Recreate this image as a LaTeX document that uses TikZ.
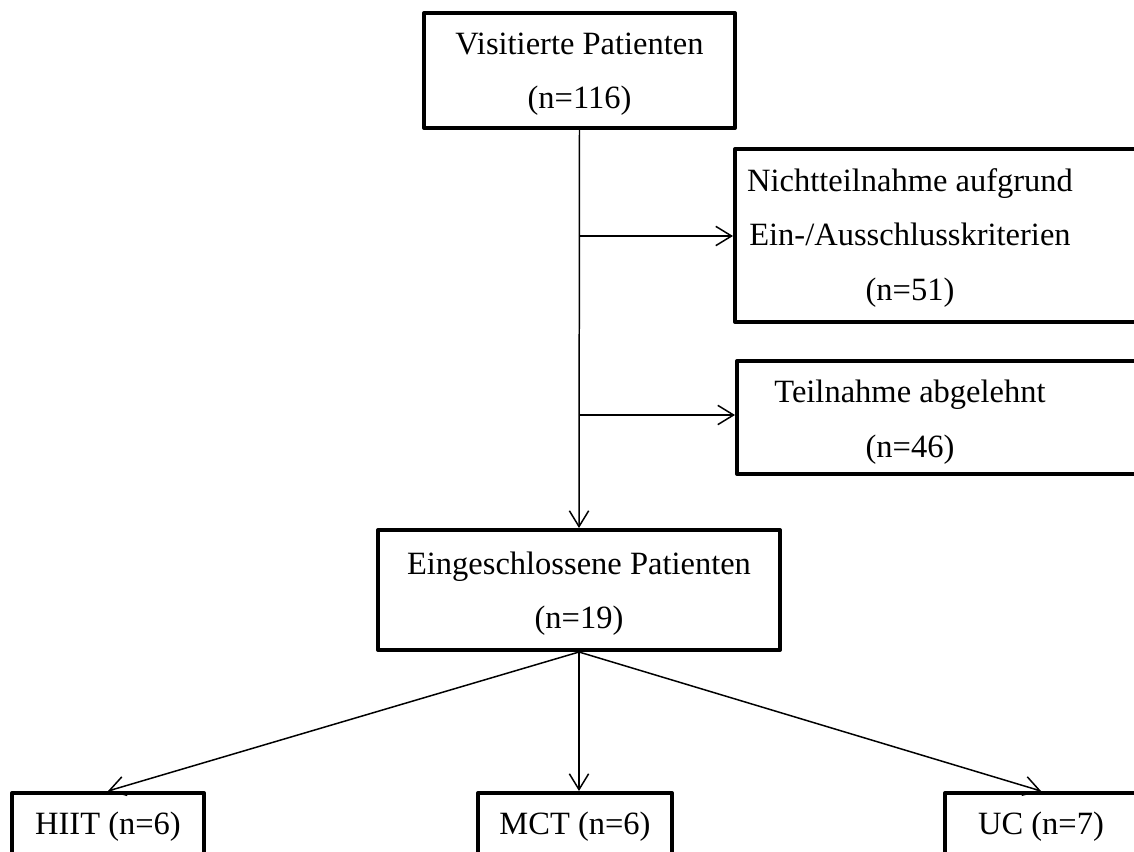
\documentclass[tikz,border=0pt]{standalone}
\usepackage{fontspec}
\setmainfont{Liberation Serif}
\usetikzlibrary{arrows.meta}

\tikzset{
  box/.style={draw,rectangle,line width=2.3pt,line join=round,inner sep=0pt,align=center,font=\fontsize{18.5}{31}\selectfont},
  lbl/.style={inner sep=0pt,align=center,font=\fontsize{18.5}{31}\selectfont},
  conn/.style={line width=0.85pt,-{Straight Barb[length=9pt,width=11pt]}}
}

\begin{document}
\begin{tikzpicture}[x=0.02cm,y=-0.02cm]
        \useasboundingbox (0,0) rectangle (1134,852);
        \node[box,minimum width=6.22cm,minimum height=2.3cm,text depth=0pt] (visit) at (579.5,70.5) {Visitierte Patienten\\(n=116)};
        \node[box,minimum width=9cm,minimum height=3.46cm,anchor=north west] (excl) at (733,147) {};
        \node[lbl] (excltxt) at (910,238) {Nichtteilnahme aufgrund\\Ein-/Ausschlusskriterien\\(n=51)};
        \node[box,minimum width=9cm,minimum height=2.26cm,anchor=north west] (decl) at (735,359) {};
        \node[lbl] (decltxt) at (910,422) {Teilnahme abgelehnt\\(n=46)};
        \node[box,minimum width=8.04cm,minimum height=2.4cm,text depth=0pt] (incl) at (579,590) {Eingeschlossene Patienten\\(n=19)};
        \node[box,anchor=north,minimum width=3.84cm,text height=0.82cm,text depth=1.5cm] (hiit) at (108,791) {HIIT (n=6)};
        \node[box,anchor=north,minimum width=3.88cm,text height=0.82cm,text depth=1.5cm] (mct) at (575,791) {MCT (n=6)};
        \node[box,anchor=north,minimum width=3.84cm,text height=0.82cm,text depth=1.5cm] (uc) at (1041,791) {UC (n=7)};
        \coordinate (b1) at (580,236);
        \coordinate (b2) at (580,415);
        \draw[conn] (visit.south) -- (incl.north);
        \draw[conn] (b1) -- (b1 -| excl.west);
        \draw[conn] (b2) -- (b2 -| decl.west);
        \draw[conn] (incl.south) -- (hiit.north);
        \draw[conn] (incl.south) -- (incl.south |- mct.north);
        \draw[conn] (incl.south) -- (uc.north);
      \end{tikzpicture}
\end{document}
